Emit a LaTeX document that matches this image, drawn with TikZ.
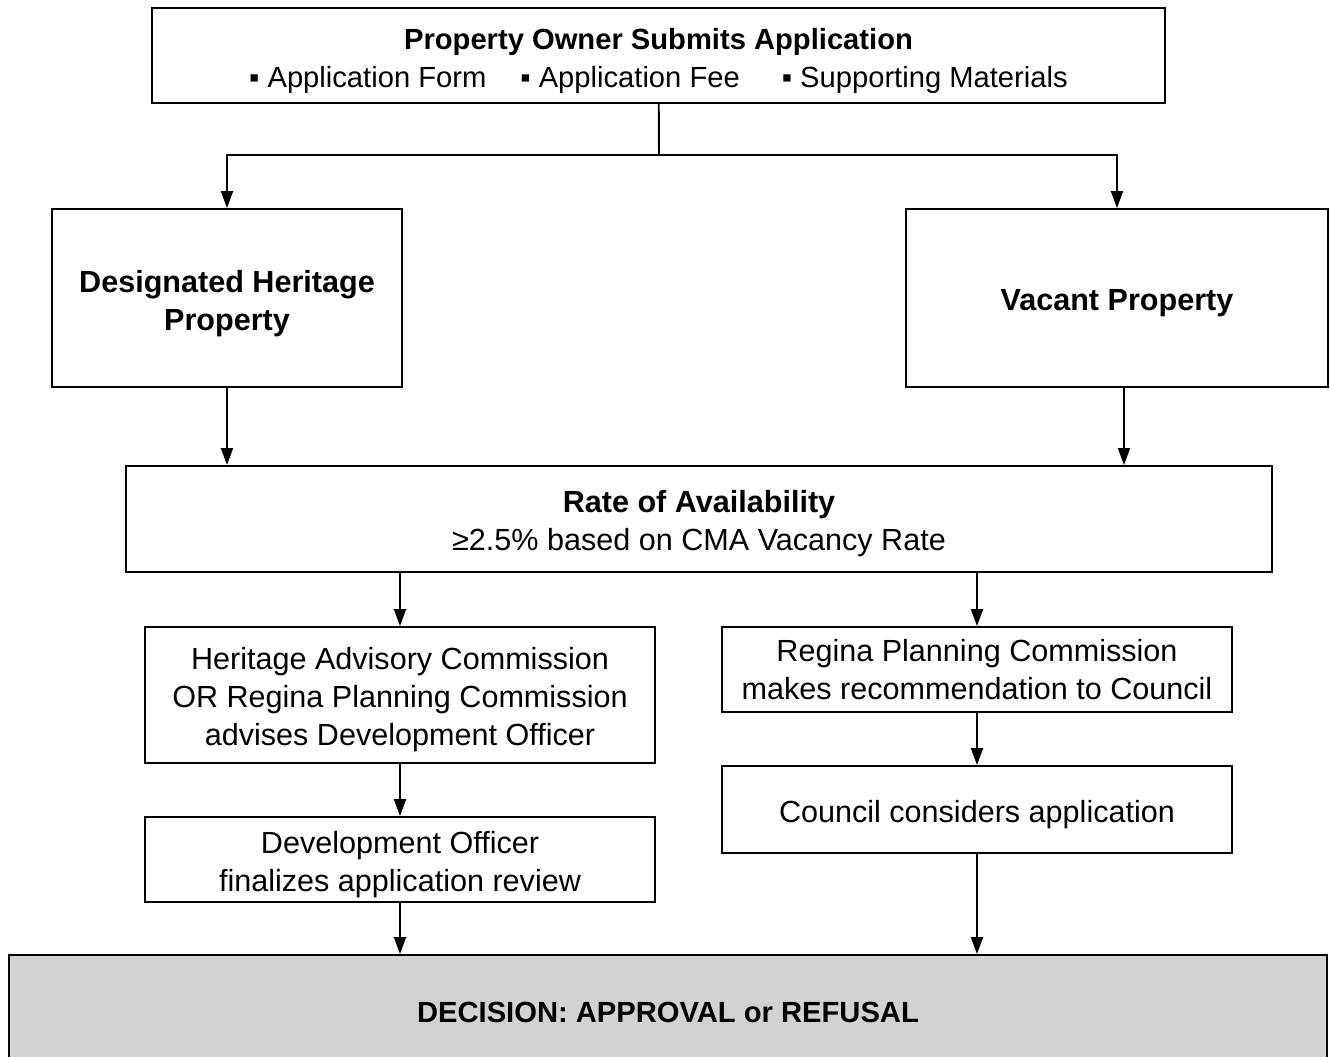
\documentclass[tikz,border=0pt]{standalone}
\usepackage{fontspec}
\setmainfont{Liberation Sans}
\usetikzlibrary{arrows.meta,positioning}

\definecolor{decisiongray}{HTML}{D1D2D4}

\tikzset{
  box/.style={draw, line width=1.1pt, align=flush center, inner sep=2pt,
    minimum width=#1, text width=#1-0.4cm,
    font=\fontsize{17.4}{21.6}\selectfont},
  small/.style={font=\fontsize{16.6}{21.6}\selectfont},
  lift/.style={execute at begin node={\rule{0pt}{#1}}},
  lift/.default=18pt,
  flow/.style={line width=1.1pt, -{Triangle[length=0.34cm,width=0.24cm]}},
}

\begin{document}
\begin{tikzpicture}[x=0.02cm, y=-0.02cm]

  \useasboundingbox (0,0) rectangle (1330,1057);

  % application and the two paths
  \node[box=20.26cm, small, lift, minimum height=1.9cm] (submit) at (658.5,55.5)
    {\textbf{Property Owner Submits Application}\\
     ▪ Application Form\hspace{0.68cm}▪ Application Fee\hspace{0.84cm}▪ Supporting Materials};
  \node[box=7cm, lift=19pt, minimum height=3.56cm] (heritage) at (227,298)
    {\textbf{Designated Heritage}\\ \textbf{Property}};
  \node[box=8.44cm, lift, minimum height=3.56cm] (vacant) at (1117,298)
    {\textbf{Vacant Property}};

  \node[box=22.92cm, lift, minimum height=2.12cm] (rate) at (699,519)
    {\textbf{Rate of Availability}\\ ≥2.5\% based on CMA Vacancy Rate};

  % left branch
  \node[box=10.2cm, lift, minimum height=2.72cm] (hac) at (400,695)
    {Heritage Advisory Commission\\ OR Regina Planning Commission\\ advises Development Officer};
  \node[box=10.2cm, lift, minimum height=1.7cm] (devofficer) at (400,859.5)
    {Development Officer\\ finalizes application review};

  % right branch
  \node[box=10.2cm, minimum height=1.7cm] (rpc) at (977,669.5)
    {Regina Planning Commission\\ makes recommendation to Council};
  \node[box=10.2cm, lift, minimum height=1.74cm] (council) at (977,809.5)
    {Council considers application};

  \node[box=26.36cm, small, fill=decisiongray, minimum height=2.28cm] (decision) at (668,1012)
    {\textbf{DECISION: APPROVAL or REFUSAL}};

  % connectors
  \coordinate (split) at (659,155);
  \draw[line width=1.1pt] (submit) -- (split);
  \draw[flow] (split) -| (heritage);
  \draw[flow] (split) -| (vacant);

  \draw[flow] (heritage) -- (heritage |- rate.north);
  \draw[flow] ([xshift=0.14cm]vacant.south) -- ([xshift=0.14cm]vacant.south |- rate.north);

  \draw[flow] (rate.south -| hac) -- (hac);
  \draw[flow] (rate.south -| rpc) -- (rpc);
  \draw[flow] (hac) -- (devofficer);
  \draw[flow] (rpc) -- (council);
  \draw[flow] (devofficer) -- (devofficer |- decision.north);
  \draw[flow] (council) -- (council |- decision.north);

\end{tikzpicture}
\end{document}
